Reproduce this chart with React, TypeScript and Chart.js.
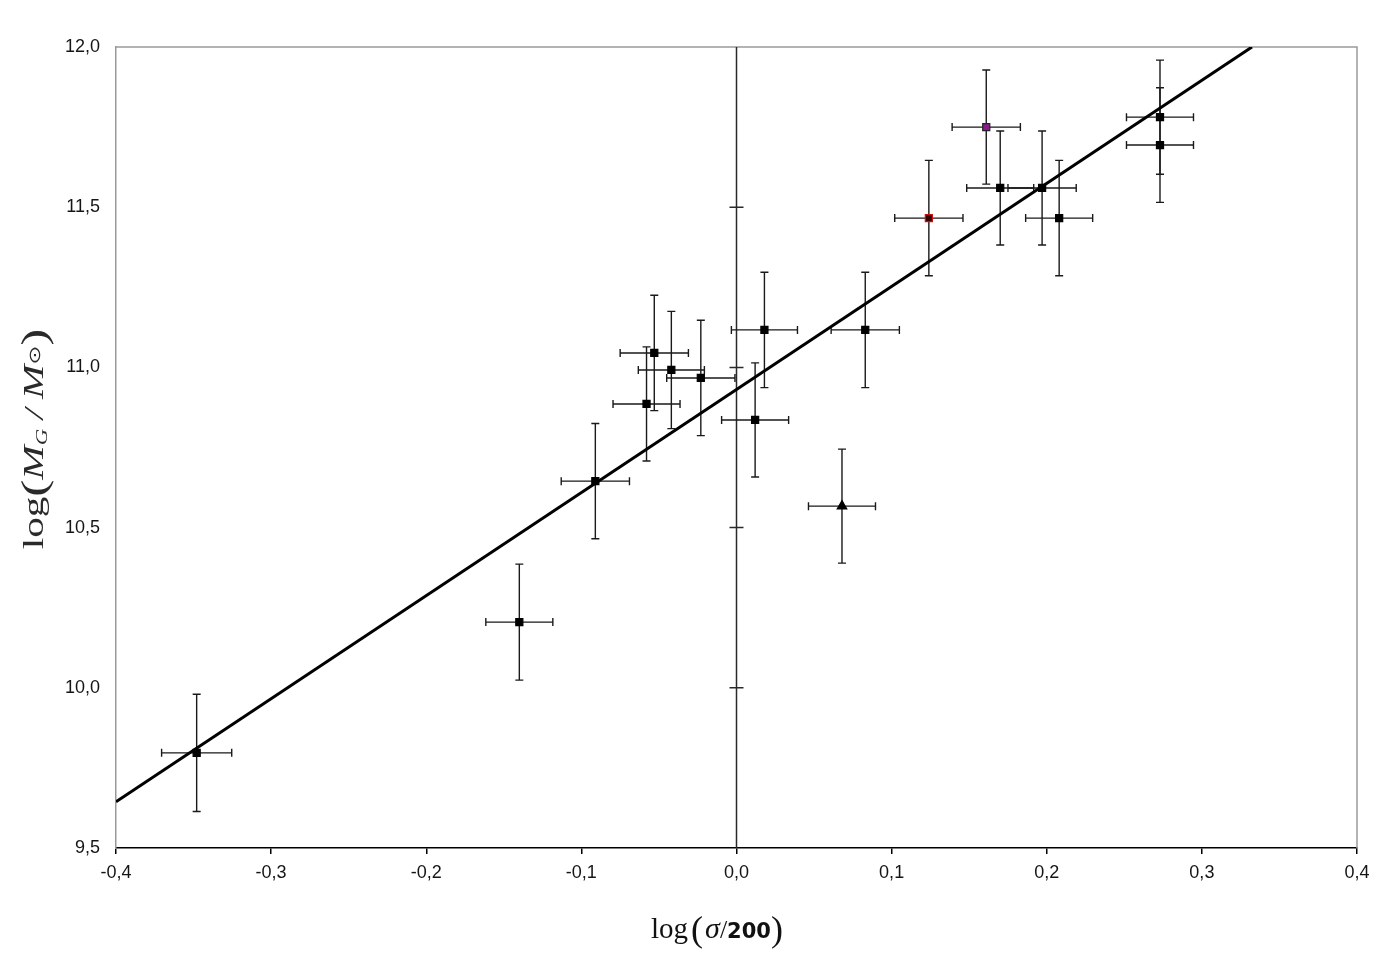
import React, { useEffect, useRef } from 'react';
import { Chart, registerables } from 'chart.js';

Chart.register(...registerables);

// Data
const sigmaLog = [-0.348, -0.140, -0.091, -0.058, -0.053, -0.042, -0.023, 0.012, 0.018, 0.068, 0.083, 0.124, 0.161, 0.170, 0.197, 0.208, 0.273, 0.273];
const massLog = [9.797, 10.205, 10.645, 10.886, 11.045, 10.992, 10.967, 10.836, 11.117, 10.567, 11.117, 11.466, 11.750, 11.560, 11.560, 11.466, 11.781, 11.694];
const sigmaErr = [0.0226, 0.0216, 0.022, 0.0216, 0.022, 0.0213, 0.022, 0.0216, 0.0213, 0.0216, 0.022, 0.022, 0.022, 0.0216, 0.022, 0.0216, 0.0216, 0.0216];
const massErr = [0.183, 0.181, 0.18, 0.178, 0.18, 0.183, 0.18, 0.178, 0.18, 0.178, 0.18, 0.18, 0.178, 0.178, 0.178, 0.18, 0.178, 0.179];
const markerKind = ['sq', 'sq', 'sq', 'sq', 'sq', 'sq', 'sq', 'sq', 'sq', 'tri', 'sq', 'red', 'purple', 'sq', 'sq', 'sq', 'sq', 'sq'];

// Regression line end points
const fitX = [-0.4, 0.3323];
const fitY = [9.644, 12.0];

const xMin = -0.4, xMax = 0.4, xStep = 0.1;
const yMin = 9.5, yMax = 12.0, yStep = 0.5;

const fmt = (v: number) => {
  const r = Math.abs(v) < 1e-9 ? 0 : v;
  return r.toFixed(1).replace('.', ',');
};

type Seg = { text: string; font: string; dy?: number };

function drawRich(ctx: CanvasRenderingContext2D, segs: Seg[], stretch: number, color: string) {
  let total = 0;
  const widths = segs.map((s) => {
    ctx.font = s.font;
    const w = ctx.measureText(s.text).width;
    total += w;
    return w;
  });
  ctx.save();
  ctx.scale(stretch, 1);
  let x = -total / 2;
  ctx.textBaseline = 'alphabetic';
  ctx.textAlign = 'left';
  ctx.fillStyle = color;
  segs.forEach((s, i) => {
    ctx.font = s.font;
    ctx.fillText(s.text, x, s.dy || 0);
    x += widths[i];
  });
  ctx.restore();
}

const SERIF = '"Liberation Serif", "Times New Roman", serif';

const decorPlugin = {
  id: 'decor',
  beforeDatasetsDraw(chart: any) {
    const { ctx, chartArea } = chart;
    const xs = chart.scales.x;
    const ys = chart.scales.y;
    ctx.save();
    // top & right frame
    ctx.strokeStyle = '#9a9a9a';
    ctx.lineWidth = 1.5;
    ctx.beginPath();
    ctx.moveTo(chartArea.left, chartArea.top);
    ctx.lineTo(chartArea.right, chartArea.top);
    ctx.lineTo(chartArea.right, chartArea.bottom);
    ctx.stroke();
    // vertical axis at x = 0 with cross ticks
    const x0 = xs.getPixelForValue(0);
    ctx.strokeStyle = '#2a2a2a';
    ctx.lineWidth = 1.5;
    ctx.beginPath();
    ctx.moveTo(x0, chartArea.top);
    ctx.lineTo(x0, chartArea.bottom);
    for (let v = yMin + yStep; v < yMax - 1e-9; v += yStep) {
      const py = ys.getPixelForValue(v);
      ctx.moveTo(x0 - 7, py);
      ctx.lineTo(x0 + 7, py);
    }
    ctx.stroke();
    // error bars
    ctx.strokeStyle = '#1a1a1a';
    ctx.lineWidth = 1.4;
    const cap = 4;
    for (let i = 0; i < sigmaLog.length; i++) {
      const px = xs.getPixelForValue(sigmaLog[i]);
      const py = ys.getPixelForValue(massLog[i]);
      const xl = xs.getPixelForValue(sigmaLog[i] - sigmaErr[i]);
      const xr = xs.getPixelForValue(sigmaLog[i] + sigmaErr[i]);
      const yt = ys.getPixelForValue(massLog[i] + massErr[i]);
      const yb = ys.getPixelForValue(massLog[i] - massErr[i]);
      ctx.beginPath();
      ctx.moveTo(xl, py); ctx.lineTo(xr, py);
      ctx.moveTo(xl, py - cap); ctx.lineTo(xl, py + cap);
      ctx.moveTo(xr, py - cap); ctx.lineTo(xr, py + cap);
      ctx.moveTo(px, yt); ctx.lineTo(px, yb);
      ctx.moveTo(px - cap, yt); ctx.lineTo(px + cap, yt);
      ctx.moveTo(px - cap, yb); ctx.lineTo(px + cap, yb);
      ctx.stroke();
    }
    ctx.restore();
  },
  afterDraw(chart: any) {
    const { ctx } = chart;
    // X title: log(σ/200)
    ctx.save();
    ctx.translate(717, 938);
    drawRich(ctx, [
      { text: 'log', font: `29px ${SERIF}` },
      { text: ' ', font: `12px ${SERIF}` },
      { text: '(', font: `36px ${SERIF}`, dy: 3 },
      { text: ' ', font: `8px ${SERIF}` },
      { text: 'σ', font: `italic 30px ${SERIF}` },
      { text: '/', font: `26px ${SERIF}` },
      { text: '200', font: `bold 21px "DejaVu Sans", sans-serif` },
      { text: ')', font: `36px ${SERIF}`, dy: 3 },
    ], 1, '#111');
    ctx.restore();
    // Y title: log(M_G / M_⊙)
    ctx.save();
    ctx.translate(43, 439);
    ctx.rotate(-Math.PI / 2);
    drawRich(ctx, [
      { text: 'log', font: `29px ${SERIF}` },
      { text: '(', font: `36px ${SERIF}`, dy: 3 },
      { text: 'M', font: `italic 29px ${SERIF}` },
      { text: 'G', font: `italic 16px ${SERIF}`, dy: 4 },
      { text: ' / ', font: `italic 27px ${SERIF}` },
      { text: 'M', font: `italic 29px ${SERIF}` },
      { text: '⊙', font: `16px "DejaVu Sans", sans-serif`, dy: -3 },
      { text: ')', font: `36px ${SERIF}`, dy: 3 },
    ], 1.42, '#2a2a2a');
    ctx.restore();
  },
};

export default function App() {
  const ref = useRef<HTMLCanvasElement | null>(null);
  useEffect(() => {
    if (!ref.current) return;
    const points = sigmaLog.map((x, i) => ({ x, y: massLog[i] }));
    const fit = fitX.map((x, i) => ({ x, y: fitY[i] }));
    const bg = (k: string) => (k === 'red' ? '#3a0000' : k === 'purple' ? '#8a1a8a' : '#000');
    const bd = (k: string) => (k === 'red' ? '#cc1010' : k === 'purple' ? '#222' : '#000');
    const tickFont = { family: '"Liberation Sans", Arial, sans-serif', size: 18 };
    const chart = new Chart(ref.current, {
      type: 'scatter',
      data: {
        datasets: [
          {
            data: points,
            pointStyle: (c: any) => (markerKind[c.dataIndex] === 'tri' ? 'triangle' : 'rect'),
            pointRadius: (c: any) => (markerKind[c.dataIndex] === 'tri' ? 5.5 : 5),
            backgroundColor: (c: any) => bg(markerKind[c.dataIndex]),
            borderColor: (c: any) => bd(markerKind[c.dataIndex]),
            borderWidth: 1.2,
          } as any,
          {
            data: fit,
            showLine: true,
            pointRadius: 0,
            borderColor: '#000',
            borderWidth: 3,
            fill: false,
          } as any,
        ],
      },
      options: {
        animation: false,
        responsive: true,
        maintainAspectRatio: false,
        layout: { padding: { left: 0, top: 47, right: 35, bottom: 0 } },
        plugins: { legend: { display: false }, tooltip: { enabled: false } },
        scales: {
          x: {
            type: 'linear',
            min: xMin,
            max: xMax,
            afterFit: (s: any) => { s.height = 124; },
            ticks: { stepSize: xStep, callback: (v: any) => fmt(Number(v)), font: tickFont, color: '#151515', padding: 8, maxRotation: 0 },
            grid: { drawOnChartArea: false, drawTicks: true, tickLength: 6, color: '#000', lineWidth: 1.5 },
            border: { color: '#000', width: 1.5 },
          },
          y: {
            type: 'linear',
            min: yMin,
            max: yMax,
            afterFit: (s: any) => { s.width = 116; },
            ticks: { stepSize: yStep, callback: (v: any) => fmt(Number(v)), font: tickFont, color: '#151515', padding: 16 },
            grid: { drawOnChartArea: false, drawTicks: false },
            border: { color: '#9a9a9a', width: 1.5 },
          },
        },
      } as any,
      plugins: [decorPlugin],
    });
    return () => chart.destroy();
  }, []);
  return (
    <div style={{ position: 'fixed', left: 0, top: 0, width: 1392, height: 972, background: '#fff' }}>
      <canvas ref={ref} />
    </div>
  );
}
